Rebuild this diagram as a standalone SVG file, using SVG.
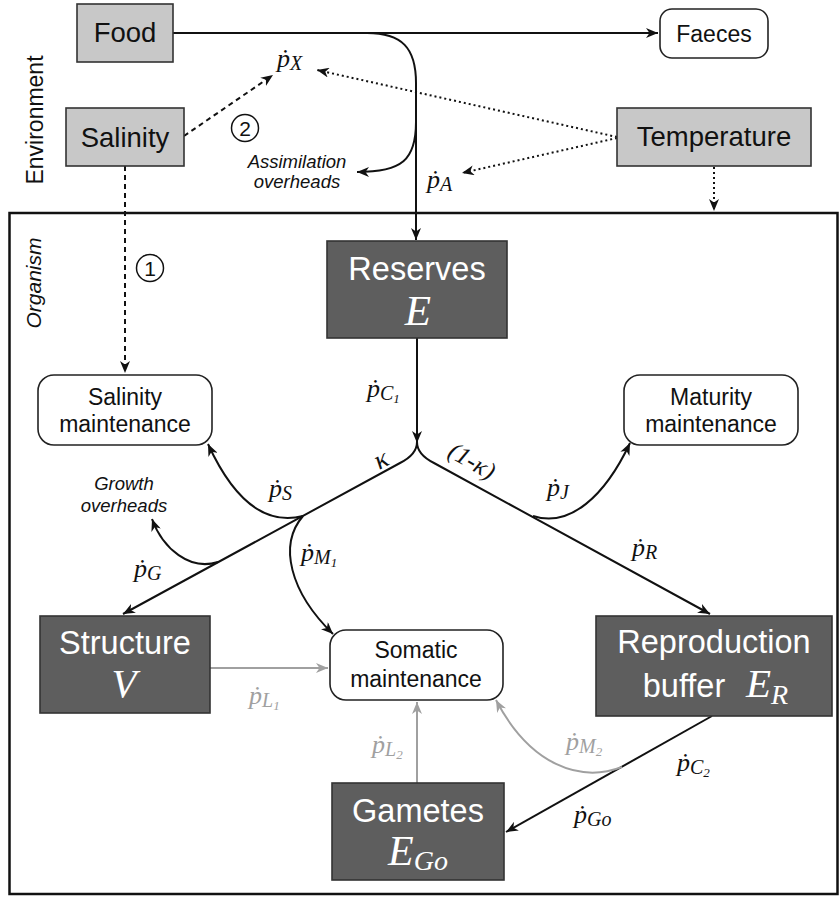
<svg xmlns="http://www.w3.org/2000/svg" width="839" height="898" viewBox="0 0 839 898">
<style>
.env{fill:#c8c8c8;stroke:#333;stroke-width:1.6}
.dark{fill:#5e5e5e;stroke:#333;stroke-width:1.6}
.soft{fill:#fff;stroke:#222;stroke-width:1.6}
.t{font-family:"Liberation Sans",Arial,sans-serif;text-anchor:middle}
.tg{font-size:27.5px;fill:#111}
.td{font-size:32.5px;fill:#fff}
.ts{font-size:23px;fill:#111}
.ti{font-size:18.5px;font-style:italic;fill:#111}
.m{font-family:"Liberation Serif","Times New Roman",serif;font-style:italic}
.mp{font-size:26px;fill:#111}
.mg{font-size:26px;fill:#a0a0a0}
.big{font-size:43px;fill:#fff}
.c{fill:none;stroke:#111;stroke-width:2}
.cg{fill:none;stroke:#a0a0a0;stroke-width:2}
.dash{stroke-dasharray:5 4}
.dot{stroke-dasharray:2 3}
</style>
<defs>
<marker id="ah" viewBox="0 0 12 10" refX="12" refY="5" markerWidth="12" markerHeight="10" markerUnits="userSpaceOnUse" orient="auto"><path d="M0,0 L12,5 L0,10 L3.5,5 z" fill="#111"/></marker>
<marker id="ahg" viewBox="0 0 12 10" refX="12" refY="5" markerWidth="12" markerHeight="10" markerUnits="userSpaceOnUse" orient="auto"><path d="M0,0 L12,5 L0,10 L3.5,5 z" fill="#a0a0a0"/></marker>
</defs>
<rect width="839" height="898" fill="#fff"/>

<g id="organism-frame">
<rect x="9.5" y="213" width="828" height="681" fill="none" stroke="#111" stroke-width="2.5"/>
<text class="t" transform="translate(41,283) rotate(-90)" style="font-size:21px;font-style:italic;fill:#111">Organism</text>
</g>
<text class="t" transform="translate(43,120) rotate(-90)" style="font-size:23px;fill:#111">Environment</text>

<g id="connectors">
<path class="c" d="M173,33 H658" marker-end="url(#ah)"/>
<path class="c" d="M367,33 C402,33 416,48 416,83 V240" marker-end="url(#ah)"/>
<path class="c" d="M416,122 C416,160 402,172 357,172" marker-end="url(#ah)"/>
<path class="c dot" d="M617,137 L317,70" marker-end="url(#ah)"/>
<path class="c dot" d="M617,138 L462,173" marker-end="url(#ah)"/>
<path class="c dot" d="M714,167 V211" marker-end="url(#ah)"/>
<path class="c dash" d="M184,136 L273,75" marker-end="url(#ah)"/>
<path class="c dash" d="M125,166 V373" marker-end="url(#ah)"/>
<path class="c" d="M417,338 V443" marker-end="url(#ah)"/>
<path class="c" d="M417,442 C417,452 410,458 400,463 L123,614" marker-end="url(#ah)"/>
<path class="c" d="M417,442 C417,452 424,458 434,463 L710,614" marker-end="url(#ah)"/>
<path class="c" d="M303,516 C260,527 230,492 208,444" marker-end="url(#ah)"/>
<path class="c" d="M218,562 C190,571 163,549 152,519" marker-end="url(#ah)"/>
<path class="c" d="M303,516 C278,545 290,592 333,634" marker-end="url(#ah)"/>
<path class="c" d="M533,516 C570,528 605,496 630,443" marker-end="url(#ah)"/>
<path class="c" d="M712,716 L506,832" marker-end="url(#ah)"/>
<path class="cg" d="M210,668 H328" marker-end="url(#ahg)"/>
<path class="cg" d="M417,783 V702" marker-end="url(#ahg)"/>
<path class="cg" d="M622,767 C580,783 530,765 496,700" marker-end="url(#ahg)"/>
</g>

<g id="labels">
<text class="m mp" x="277" y="67">ṗ<tspan font-size="20" dy="3">X</tspan></text>
<text class="m mp" x="427" y="188">ṗ<tspan font-size="20" dy="3">A</tspan></text>
<text class="m mp" x="367" y="397">ṗ<tspan font-size="20" dy="3">C</tspan><tspan font-size="13" dy="3">1</tspan></text>
<text class="m mp" x="269" y="497">ṗ<tspan font-size="20" dy="3">S</tspan></text>
<text class="m mp" x="134" y="577">ṗ<tspan font-size="20" dy="3">G</tspan></text>
<text class="m mp" x="301" y="561">ṗ<tspan font-size="20" dy="3">M</tspan><tspan font-size="13" dy="3">1</tspan></text>
<text class="m mp" x="547" y="496">ṗ<tspan font-size="20" dy="3">J</tspan></text>
<text class="m mp" x="632" y="556">ṗ<tspan font-size="20" dy="3">R</tspan></text>
<text class="m mg" x="249" y="704">ṗ<tspan font-size="20" dy="3">L</tspan><tspan font-size="13" dy="3">1</tspan></text>
<text class="m mg" x="372" y="753">ṗ<tspan font-size="20" dy="3">L</tspan><tspan font-size="13" dy="3">2</tspan></text>
<text class="m mg" x="566" y="750">ṗ<tspan font-size="20" dy="3">M</tspan><tspan font-size="13" dy="3">2</tspan></text>
<text class="m mp" x="677" y="771">ṗ<tspan font-size="20" dy="3">C</tspan><tspan font-size="13" dy="3">2</tspan></text>
<text class="m mp" x="574" y="823">ṗ<tspan font-size="20" dy="3">Go</tspan></text>
<text class="m" transform="translate(385,467) rotate(-28)" style="font-size:27px;fill:#111;text-anchor:middle">κ</text>
<text class="m" transform="translate(468,468) rotate(30)" style="font-size:25px;fill:#111;text-anchor:middle">(1-κ)</text>
<text class="t ti" x="297" y="168">Assimilation</text>
<text class="t ti" x="297" y="188">overheads</text>
<text class="t ti" x="124" y="490">Growth</text>
<text class="t ti" x="124" y="512">overheads</text>
<circle cx="245" cy="128" r="13.5" fill="none" stroke="#111" stroke-width="1.5"/>
<text class="t" x="245" y="136" style="font-size:21px;fill:#111">2</text>
<circle cx="150" cy="268" r="13.5" fill="none" stroke="#111" stroke-width="1.5"/>
<text class="t" x="150" y="276" style="font-size:21px;fill:#111">1</text>
</g>

<g id="food">
<rect class="env" x="77" y="4" width="96" height="58"/>
<text class="t tg" x="125" y="42">Food</text>
</g>
<g id="salinity">
<rect class="env" x="66" y="108" width="118" height="58"/>
<text class="t tg" x="125" y="147">Salinity</text>
</g>
<g id="temperature">
<rect class="env" x="617" y="108" width="194" height="58"/>
<text class="t tg" x="714" y="146">Temperature</text>
</g>
<g id="faeces">
<rect class="soft" x="660" y="9" width="108" height="49" rx="12"/>
<text class="t ts" x="714" y="42">Faeces</text>
</g>
<g id="reserves">
<rect class="dark" x="327" y="241" width="180" height="97"/>
<text class="t td" x="417" y="280">Reserves</text>
<text class="m big" x="418" y="325" text-anchor="middle">E</text>
</g>
<g id="salinity-maintenance">
<rect class="soft" x="38" y="375" width="174" height="70" rx="16"/>
<text class="t ts" x="125" y="405">Salinity</text>
<text class="t ts" x="125" y="432">maintenance</text>
</g>
<g id="maturity-maintenance">
<rect class="soft" x="624" y="375" width="174" height="70" rx="16"/>
<text class="t ts" x="711" y="405">Maturity</text>
<text class="t ts" x="711" y="432">maintenance</text>
</g>
<g id="structure">
<rect class="dark" x="40" y="616" width="170" height="97"/>
<text class="t td" x="125" y="654">Structure</text>
<text class="m big" x="124" y="697" text-anchor="middle" style="font-size:41px">V</text>
</g>
<g id="somatic-maintenance">
<rect class="soft" x="330" y="630" width="173" height="70" rx="16"/>
<text class="t ts" x="416" y="658">Somatic</text>
<text class="t ts" x="416" y="687">maintenance</text>
</g>
<g id="reproduction-buffer">
<rect class="dark" x="596" y="616" width="236" height="100"/>
<text class="t td" x="684" y="653" style="text-anchor:middle" dx="30">Reproduction</text>
<text class="t td" x="684" y="697">buffer</text>
<text class="m big" x="746" y="697" style="font-size:41px">E<tspan font-size="28" dy="7">R</tspan></text>
</g>
<g id="gametes">
<rect class="dark" x="332" y="783" width="172" height="97"/>
<text class="t td" x="418" y="822">Gametes</text>
<text class="m big" x="388" y="865" style="font-size:42px">E<tspan font-size="28" dy="5">Go</tspan></text>
</g>
</svg>
